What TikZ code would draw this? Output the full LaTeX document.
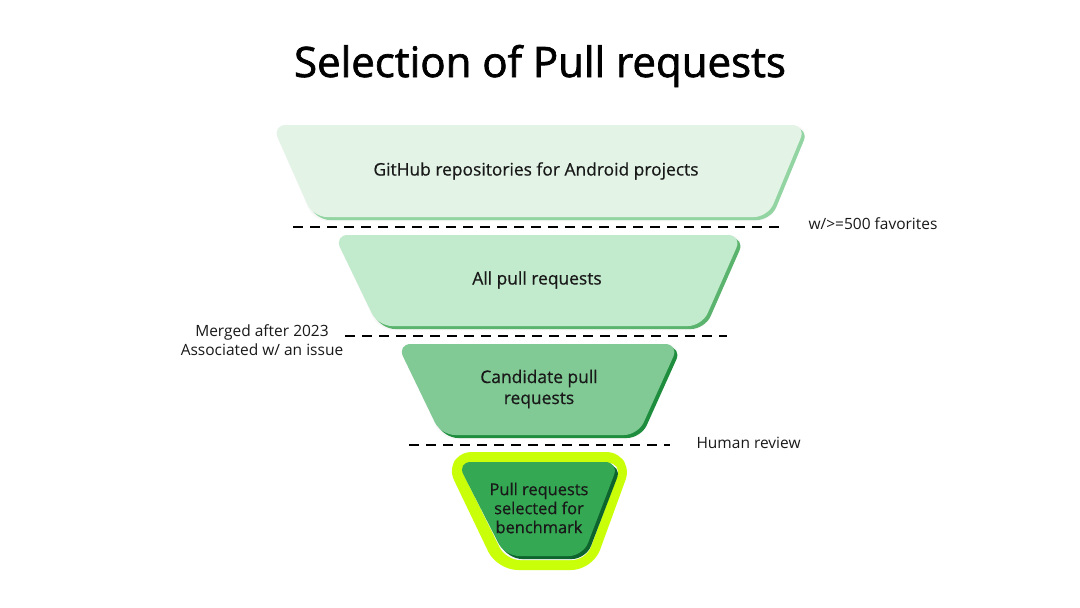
\documentclass[tikz,border=0pt]{standalone}
\usepackage{fontspec}
\setmainfont{Open Sans}
\newfontfamily\medfont{Open Sans}[FakeBold=0.6]
\newfontfamily\titlefont{Open Sans}[FakeBold=1.6]
\usetikzlibrary{calc}
\definecolor{fA}{HTML}{E3F4E7}\definecolor{sA}{HTML}{93D5A2}
\definecolor{fB}{HTML}{C2EACC}\definecolor{sB}{HTML}{5BB46E}
\definecolor{fC}{HTML}{81C995}\definecolor{sC}{HTML}{1E8E3E}
\definecolor{fD}{HTML}{34A853}\definecolor{sD}{HTML}{0D652D}
\definecolor{lime}{HTML}{CAFF0A}
\newcommand\funnelbox[8]{%
  \fill[black!3,shift={(1,2)},rounded corners=14] (#2,#1-1) -- (#3+2,#1-1) -- (#6+2,#4+2) -- (#5,#4+2) -- cycle;
  \fill[#8,shift={(3,3)},rounded corners=14] (#2,#1) -- (#3,#1) -- (#6,#4) -- (#5,#4) -- cycle;
  \fill[#7,rounded corners=14] (#2,#1) -- (#3,#1) -- (#6,#4) -- (#5,#4) -- cycle;}
\tikzset{
  boxtext/.style={font=\medfont\fontsize{17.4}{21}\selectfont, align=center, text=black!90},
  sidelabel/.style={font=\fontsize{15.5}{19}\selectfont, align=center, text=black!90},
  cutline/.style={line width=2.5pt, dash pattern=on 10pt off 7pt, black}
}
\begin{document}
\begin{tikzpicture}[x=1pt,y=-1pt]
\useasboundingbox[fill=white] (0,0) rectangle (1080,608);
\node[font=\titlefont\fontsize{42}{50}\selectfont, text=black] (title) at (540,66) {Selection of Pull requests};
% stage 1
\funnelbox{125}{272}{806}{217}{313}{768}{fA}{sA}
\node[boxtext] (s1) at (536,171) {GitHub repositories for Android projects};
% stage 2
\funnelbox{235}{334}{742}{326}{378}{702}{fB}{sB}
\node[boxtext] (s2) at (537,280) {All pull requests};
% stage 3
\funnelbox{344}{397}{679}{435}{441}{638}{fC}{sC}
\node[boxtext] (s3) at (539,389) {Candidate pull\\requests};
% stage 4 with glow
\draw[lime, line width=22pt, line join=round, fill=lime, rounded corners=14] (458,463) -- (620,463) -- (585,559) -- (504,559) -- cycle;
\funnelbox{462}{457}{619}{556}{505}{583}{fD}{sD}
\node[boxtext, font=\medfont\fontsize{16.4}{19}\selectfont] (s4) at (539,508) {Pull requests\\selected for\\benchmark};
% cut lines
\coordinate (c1a) at (293,227); \coordinate (c1b) at (783,227);
\coordinate (c2a) at (345,336); \coordinate (c2b) at (727,336);
\coordinate (c3a) at (409,445); \coordinate (c3b) at (670,445);
\draw[cutline] (c1a) -- (c1b);
\draw[cutline] (c2a) -- (c2b);
\draw[cutline] (c3a) -- (c3b);
\node[sidelabel, anchor=west] (l1) at (805,224) {w/>=500 favorites};
\node[sidelabel] (l2) at (262,340) {Merged after 2023\\Associated w/ an issue};
\node[sidelabel, anchor=west] (l3) at (693,443) {Human review};
\end{tikzpicture}
\end{document}
